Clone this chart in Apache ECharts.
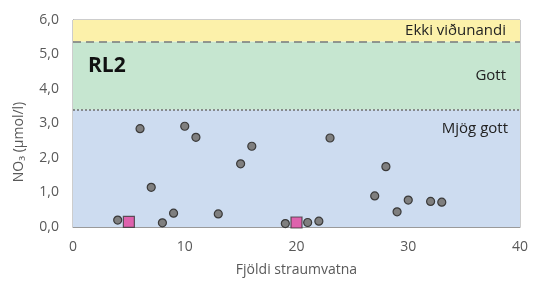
<!DOCTYPE html>
<html>
<head>
<meta charset="utf-8">
<script src="https://cdn.jsdelivr.net/npm/echarts@6/dist/echarts.min.js"></script>
<style>
  html, body { margin: 0; padding: 0; background: #fff; }
  #chart { width: 534px; height: 285px; }
</style>
</head>
<body>
<div id="chart"></div>
<script>
// --- données --- //
const stationsX = [4, 6, 7, 8, 9, 10, 11, 13, 15, 16, 19, 21, 22, 23, 27, 28, 29, 30, 32, 33];
const stationsNO3 = [0.2, 2.85, 1.15, 0.12, 0.4, 2.92, 2.6, 0.38, 1.83, 2.34, 0.1, 0.13, 0.17, 2.58, 0.9, 1.75, 0.44, 0.78, 0.74, 0.72];
const refX = [5, 20];
const refNO3 = [0.15, 0.13];
const thresholds = [3.4, 5.38, 6];
const classNames = ['Mjög gott', 'Gott', 'Ekki viðunandi'];
const xTicks = [0, 10, 20, 30, 40];

const fontFam = 'Open Sans, Noto Sans, sans-serif';
const labelColor = '#595959';

const chart = echarts.init(document.getElementById('chart'));

let option = {
  animation: false,
  textStyle: { fontFamily: fontFam },
  grid: {
    left: 73, right: 14, top: 20, bottom: 58,
    show: true, borderColor: '#9a9a9a', borderWidth: 1
  },
  title: {
    text: 'RL2',
    left: 83, top: 51,
    textStyle: { fontSize: 21, fontWeight: 'bold', color: '#111', fontFamily: fontFam }
  },
  graphic: [{
    type: 'text',
    x: 19, y: 142,
    rotation: Math.PI / 2,
    style: {
      text: 'NO₃ (µmol/l)',
      fill: labelColor,
      font: '14px ' + fontFam,
      align: 'center',
      verticalAlign: 'middle'
    }
  }],
  xAxis: {
    type: 'value',
    min: xTicks[0], max: xTicks[xTicks.length - 1], interval: 10,
    name: 'Fjöldi straumvatna',
    nameLocation: 'middle',
    nameGap: 36,
    nameTextStyle: { color: labelColor, fontSize: 14 },
    axisLine: { show: true, lineStyle: { color: '#9a9a9a' } },
    axisTick: { show: false },
    splitLine: { show: false },
    axisLabel: { color: labelColor, fontSize: 14, margin: 13 }
  },
  yAxis: {
    type: 'value',
    min: 0, max: 6, interval: 1,
    axisLine: { show: true, lineStyle: { color: '#9a9a9a' } },
    axisTick: { show: false },
    splitLine: { show: false },
    axisLabel: {
      color: labelColor, fontSize: 14, margin: 14,
      formatter: v => v.toFixed(1).replace('.', ',')
    }
  },
  series: [
    {
      type: 'scatter',
      name: 'stations',
      data: stationsX.map((x, i) => [x, stationsNO3[i]]),
      symbol: 'circle',
      symbolSize: 8,
      itemStyle: { color: '#7f7f7f', borderColor: '#3a3a3a', borderWidth: 1.2, opacity: 1 },
      z: 5,
      markArea: {
        silent: true,
        itemStyle: { opacity: 1 },
        data: [
          [{ yAxis: 0, itemStyle: { color: '#cddcf0' },
             label: { show: true, position: 'insideTopRight', distance: 12,
                      formatter: classNames[0], color: '#222', fontSize: 15 } },
           { yAxis: thresholds[0] }],
          [{ yAxis: thresholds[0], itemStyle: { color: '#c6e6d0' },
             label: { show: true, position: 'insideRight', distance: 14,
                      formatter: classNames[1], color: '#222', fontSize: 15 } },
           { yAxis: thresholds[1] }],
          [{ yAxis: thresholds[1], itemStyle: { color: '#fcf1aa' },
             label: { show: true, position: 'insideRight', distance: 14,
                      formatter: classNames[2], color: '#222', fontSize: 15 } },
           { yAxis: thresholds[2] }]
        ]
      },
      markLine: {
        silent: true,
        symbol: 'none',
        label: { show: false },
        data: [
          { yAxis: thresholds[0], lineStyle: { type: [2, 2], color: '#6e6e6e', width: 1.5 } },
          { yAxis: thresholds[1], lineStyle: { type: [8, 5], color: '#7a7a7a', width: 1.5 } }
        ]
      }
    },
    {
      type: 'scatter',
      name: 'ref',
      data: refX.map((x, i) => [x, refNO3[i]]),
      symbol: 'rect',
      symbolSize: 11,
      itemStyle: { color: '#e2449c', borderColor: '#3a3a3a', borderWidth: 1.2 },
      z: 6
    }
  ]
};

chart.setOption(option);
</script>
</body>
</html>
